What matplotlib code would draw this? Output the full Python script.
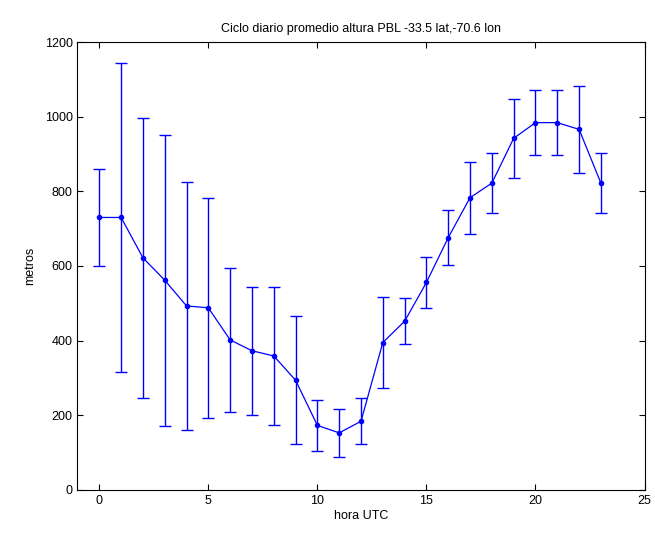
import matplotlib
matplotlib.use('Agg')
import matplotlib.pyplot as plt

# Ciclo diario de la altura de la capa limite (PBL)
horas = list(range(24))
promedio = [730, 730, 622, 562, 493, 488, 402, 373, 359, 294, 173, 153,
            184, 395, 452, 556, 676, 783, 822, 942, 984, 984, 966, 822]
desv = [131, 415, 375, 390, 333, 294, 193, 171, 184, 171, 69, 64,
        62, 121, 61, 68, 73, 96, 80, 106, 87, 87, 117, 80]

plt.rcParams['font.family'] = ['Liberation Sans', 'DejaVu Sans']
plt.rcParams['font.size'] = 8

fig = plt.figure(figsize=(6.55, 5.33), dpi=100)
ax = fig.add_axes([0.1183, 0.0807, 0.8657, 0.8405])

ax.errorbar(horas, promedio, yerr=desv, color='#0000ff', linewidth=0.9,
            elinewidth=1.0, capsize=4, capthick=1.0, marker='.', markersize=6)

ax.set_xlim(-1, 25)
ax.set_ylim(0, 1200)
ax.set_xticks([0, 5, 10, 15, 20, 25])
ax.set_yticks([0, 200, 400, 600, 800, 1000, 1200])
ax.tick_params(direction='in', top=True, right=True, length=4, width=0.8,
               labelsize=9)
for s in ax.spines.values():
    s.set_linewidth(0.8)

ax.set_title('Ciclo diario promedio altura PBL -33.5 lat,-70.6 lon', fontsize=9, pad=7)
ax.set_xlabel('hora UTC', fontsize=9, labelpad=2)
ax.set_ylabel('metros', fontsize=9, labelpad=6)

fig.savefig('out.png', dpi=100)
